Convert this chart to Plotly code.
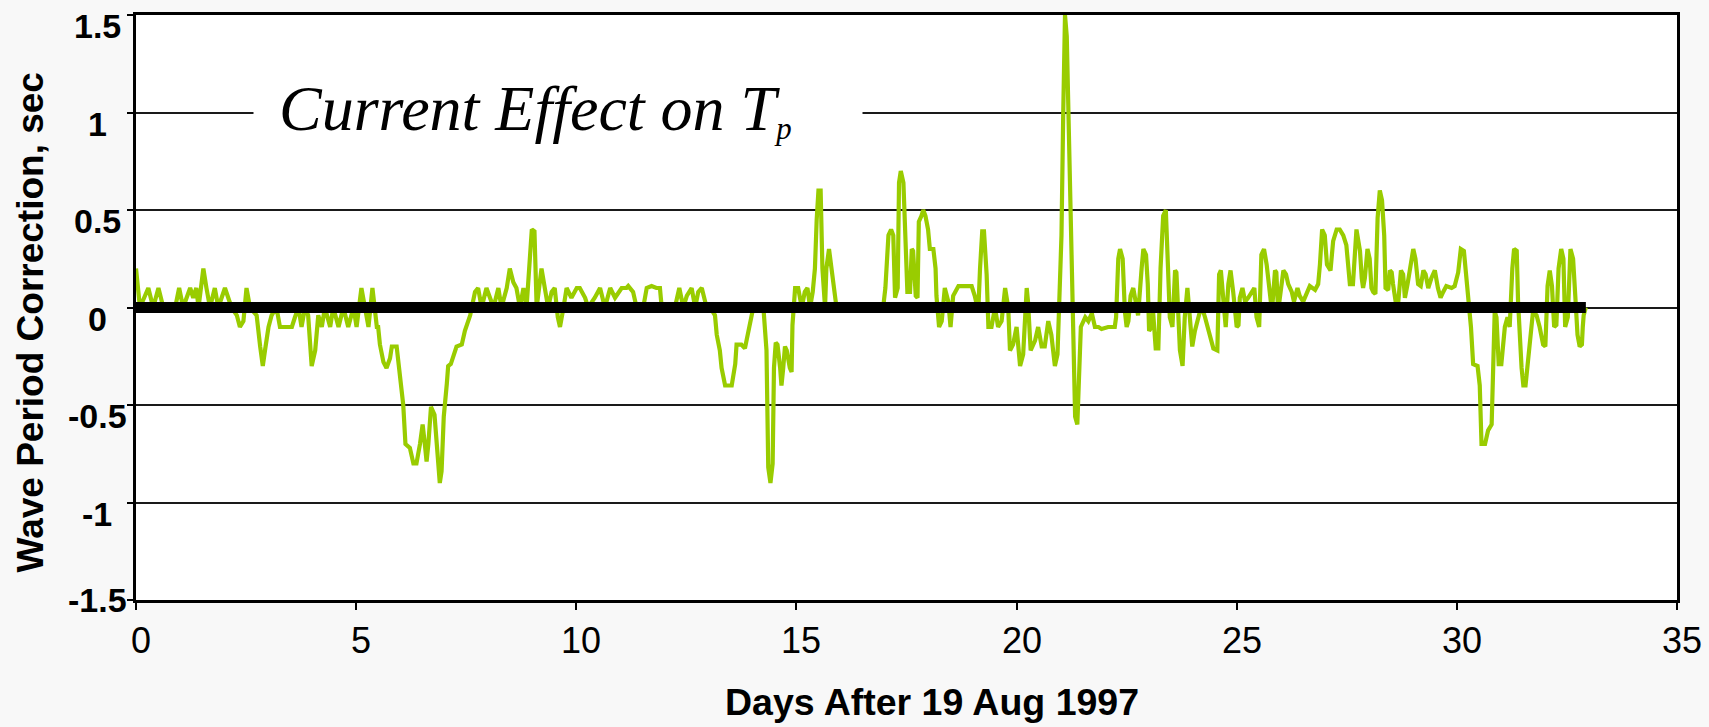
import plotly.graph_objects as go

days = [
    0.00, 0.09, 0.28, 0.39, 0.51, 0.62, 0.89, 0.98, 1.07, 1.23, 1.30, 1.37, 1.42, 1.53, 1.60, 1.68,
    1.79, 1.87, 2.02, 2.10, 2.17, 2.29, 2.36, 2.44, 2.51, 2.59, 2.74, 2.82, 2.88, 2.93, 3.01, 3.08,
    3.19, 3.27, 3.42, 3.54, 3.61, 3.69, 3.76, 3.84, 3.91, 3.99, 4.07, 4.14, 4.22, 4.29, 4.41, 4.48,
    4.60, 4.71, 4.82, 4.94, 5.01, 5.12, 5.20, 5.28, 5.37, 5.47,
    5.50, 5.54, 5.62, 5.69, 5.77, 5.81, 5.92, 6.00, 6.07, 6.12, 6.22, 6.30, 6.37, 6.45, 6.51, 6.56,
    6.60, 6.64, 6.70, 6.78, 6.83, 6.90, 6.94, 6.99, 7.06, 7.09, 7.15, 7.28, 7.40, 7.47, 7.59, 7.70,
    7.77, 7.85, 7.96, 8.04, 8.12, 8.23, 8.30, 8.42, 8.49, 8.57, 8.64, 8.72, 8.80, 8.87, 8.99, 9.05,
    9.10, 9.21, 9.29, 9.36, 9.44, 9.51, 9.58, 9.63, 9.71, 9.78, 9.89, 10.01, 10.08, 10.20, 10.27,
    10.42, 10.54, 10.65, 10.77, 10.88, 11.03,
    11.14, 11.18, 11.29, 11.37, 11.52, 11.60, 11.71, 11.82, 11.90, 11.94, 12.24, 12.34, 12.43, 12.51,
    12.62, 12.70, 12.77, 12.85, 12.96, 13.04, 13.15, 13.19, 13.26, 13.30, 13.38, 13.53, 13.61, 13.64,
    13.75, 13.83, 13.90, 13.98, 14.02, 14.25, 14.28, 14.32, 14.36, 14.41, 14.46, 14.49, 14.53, 14.57,
    14.63, 14.66, 14.70, 14.74, 14.78, 14.85, 14.89, 14.91, 14.97, 15.04, 15.12, 15.19, 15.25, 15.31,
    15.37, 15.42, 15.46, 15.50, 15.55, 15.59, 15.65, 15.68, 15.74, 15.80, 15.87, 15.91, 15.99,
    16.97, 17.02, 17.09, 17.15, 17.20, 17.24, 17.30, 17.33, 17.37, 17.43, 17.46, 17.50, 17.52, 17.58,
    17.62, 17.65, 17.71, 17.75, 17.78, 17.84, 17.88, 17.93, 17.99, 18.03, 18.11, 18.16, 18.18, 18.24,
    18.30, 18.37, 18.45, 18.50, 18.56, 18.68, 18.83, 18.98, 19.05, 19.13, 19.17, 19.22, 19.26, 19.32,
    19.36, 19.43, 19.51, 19.58, 19.66, 19.74, 19.81, 19.85, 19.92, 20.00, 20.08, 20.15, 20.23, 20.26,
    20.32, 20.42, 20.49, 20.57, 20.64, 20.72, 20.79, 20.87, 20.93, 20.98, 21.02, 21.06, 21.10, 21.14,
    21.18, 21.25, 21.29, 21.33, 21.38, 21.42, 21.46, 21.56, 21.63, 21.71, 21.78, 21.86, 21.93, 22.08,
    22.12, 22.23, 22.26, 22.31, 22.35, 22.41, 22.46, 22.50, 22.54, 22.59, 22.65, 22.71, 22.76, 22.84,
    22.88, 22.94, 22.98, 23.01, 23.07, 23.10, 23.16, 23.22, 23.27, 23.33, 23.39, 23.44, 23.48, 23.54,
    23.60, 23.63, 23.67, 23.71, 23.77, 23.82, 23.88, 23.94, 23.99, 24.05, 24.13, 24.20, 24.28, 24.35,
    24.43, 24.47, 24.56, 24.60, 24.64, 24.69, 24.75, 24.81, 24.86, 24.92, 25.00, 25.04, 25.07, 25.13,
    25.19, 25.26, 25.34, 25.40, 25.45, 25.51, 25.56, 25.62, 25.68, 25.75, 25.80, 25.87, 25.90, 25.94,
    25.99, 26.06, 26.12, 26.17, 26.25, 26.30, 26.38, 26.43, 26.51, 26.59, 26.66, 26.78, 26.85, 26.89,
    26.94, 27.00, 27.05, 27.13, 27.19, 27.27, 27.34, 27.42, 27.49, 27.57, 27.64, 27.72,
    27.80, 27.84, 27.87, 27.91, 27.97, 28.02, 28.06, 28.10, 28.15, 28.20, 28.25, 28.30, 28.35, 28.38,
    28.44, 28.48, 28.52, 28.55, 28.61, 28.67, 28.73, 28.78, 28.82, 28.88, 28.93, 29.01, 29.06, 29.12,
    29.18, 29.24, 29.29, 29.35, 29.42, 29.50, 29.57, 29.63, 29.69, 29.76, 29.88, 29.95, 30.03, 30.09,
    30.16, 30.22, 30.27, 30.32, 30.37, 30.47, 30.52, 30.56, 30.64, 30.71, 30.79, 30.82, 30.86, 30.90,
    30.95, 31.01, 31.09, 31.15, 31.20, 31.26, 31.30, 31.36, 31.39, 31.47, 31.51, 31.56, 31.61, 31.66,
    31.73, 31.81, 31.88, 31.96, 32.01, 32.06, 32.11, 32.16, 32.21, 32.26, 32.31, 32.37, 32.42, 32.46,
    32.52, 32.58, 32.64, 32.69, 32.74, 32.79, 32.84, 32.86, 32.88, 32.93,
]

correction = [
    0.20, 0.00, 0.10, 0.00, 0.10, 0.00, 0.00, 0.10, 0.00, 0.10, 0.05, 0.10, 0.00, 0.20, 0.10, 0.00,
    0.10, 0.00, 0.10, 0.05, 0.00, -0.04, -0.10, -0.07, 0.10, 0.00, -0.04, -0.20, -0.30, -0.22, -0.10, -0.04,
    0.00, -0.10, -0.10, -0.10, -0.05, 0.00, -0.10, 0.00, -0.04, -0.30, -0.22, -0.04, -0.10, 0.00, -0.10, 0.00,
    -0.10, 0.00, -0.10, 0.00, -0.10, 0.10, 0.00, -0.10, 0.10, -0.10,
    -0.10, -0.19, -0.28, -0.31, -0.26, -0.20, -0.20, -0.36, -0.50, -0.70, -0.72, -0.80, -0.80, -0.70, -0.60, -0.70,
    -0.79, -0.70, -0.51, -0.55, -0.73, -0.90, -0.84, -0.56, -0.39, -0.30, -0.29, -0.20, -0.19, -0.12, -0.04, 0.08,
    0.10, 0.00, 0.10, 0.05, 0.00, 0.10, 0.00, 0.10, 0.20, 0.13, 0.10, 0.00, 0.10, 0.00, 0.40, 0.39,
    0.00, 0.20, 0.10, 0.00, 0.08, 0.10, -0.05, -0.10, 0.00, 0.10, 0.05, 0.10, 0.10, 0.05, 0.00,
    0.05, 0.10, 0.00, 0.10, 0.05, 0.10,
    0.10, 0.11, 0.08, 0.00, 0.00, 0.10, 0.11, 0.10, 0.10, 0.00, 0.00, 0.10, 0.00, 0.06,
    0.10, 0.00, 0.08, 0.10, 0.00, 0.00, -0.04, -0.14, -0.22, -0.31, -0.40, -0.40, -0.29, -0.19,
    -0.19, -0.21, -0.14, -0.04, 0.00, 0.00, -0.09, -0.22, -0.82, -0.90, -0.80, -0.31, -0.18, -0.19,
    -0.31, -0.40, -0.31, -0.20, -0.22, -0.31, -0.33, -0.09, 0.10, 0.10, 0.00, 0.08, 0.10, 0.00,
    0.08, 0.20, 0.45, 0.60, 0.60, 0.20, 0.00, 0.20, 0.30, 0.20, 0.10, 0.00, 0.00,
    0.00, 0.10, 0.37, 0.40, 0.37, 0.05, 0.10, 0.64, 0.70, 0.64, 0.45, 0.20, 0.08, 0.08,
    0.30, 0.29, 0.06, 0.05, 0.44, 0.47, 0.50, 0.47, 0.40, 0.30, 0.30, 0.20, 0.06, -0.10,
    -0.07, 0.10, 0.03, -0.10, 0.06, 0.11, 0.11, 0.11, 0.06, -0.02, 0.20, 0.39, 0.39, 0.17,
    -0.10, -0.10, 0.00, -0.10, -0.07, 0.10, 0.00, -0.22, -0.19, -0.10, -0.30, -0.24, 0.10, 0.03,
    -0.22, -0.17, -0.10, -0.20, -0.20, -0.07, -0.14, -0.30, -0.24, 0.10, 0.37, 1.00, 1.50, 1.39,
    1.00, 0.25, -0.14, -0.56, -0.60, -0.31, -0.10, -0.05, -0.07, -0.03, -0.10, -0.10, -0.11, -0.10,
    -0.10, -0.10, -0.05, 0.25, 0.30, 0.25, -0.02, -0.10, -0.07, 0.06, 0.10, 0.03, -0.04, 0.20,
    0.30, 0.27, 0.12, -0.12, -0.10, -0.02, -0.21, -0.21, 0.20, 0.47, 0.50, 0.20, -0.05, -0.10,
    0.19, 0.18, -0.02, -0.22, -0.30, -0.05, 0.10, -0.05, -0.20, -0.12, -0.04, 0.01, -0.05, -0.11,
    -0.16, -0.21, -0.22, 0.17, 0.19, 0.08, -0.10, 0.12, 0.19, 0.08, -0.10, -0.09, 0.05, 0.10,
    0.03, 0.05, 0.08, 0.10, -0.05, -0.10, 0.27, 0.30, 0.22, 0.05, -0.02, 0.19, 0.18, -0.02,
    0.06, 0.19, 0.17, 0.12, 0.08, 0.03, 0.10, 0.06, 0.03, 0.08, 0.11, 0.09, 0.12, 0.22,
    0.40, 0.37, 0.22, 0.19, 0.34, 0.40, 0.40, 0.37, 0.32, 0.12, 0.12, 0.40,
    0.29, 0.15, 0.10, 0.15, 0.30, 0.25, 0.10, 0.08, 0.07, 0.46, 0.60, 0.55, 0.37, 0.10,
    0.09, 0.19, 0.18, 0.12, 0.03, 0.03, 0.19, 0.17, 0.05, 0.12, 0.20, 0.30, 0.25, 0.12,
    0.11, 0.19, 0.17, 0.10, 0.15, 0.19, 0.10, 0.05, 0.08, 0.11, 0.10, 0.11, 0.18, 0.30,
    0.29, 0.15, 0.01, -0.10, -0.29, -0.30, -0.40, -0.70, -0.70, -0.63, -0.60, -0.40, -0.02, -0.05,
    -0.29, -0.29, -0.10, -0.05, -0.10, 0.20, 0.30, 0.29, 0.03, -0.31, -0.40, -0.40, -0.29, -0.14,
    -0.02, -0.04, -0.10, -0.19, -0.20, 0.11, 0.19, 0.11, -0.10, -0.09, 0.20, 0.30, 0.25, -0.10,
    -0.05, 0.30, 0.25, 0.06, -0.14, -0.20, -0.19, -0.10, -0.04, 0.00,
]

x_ticks = [0, 5, 10, 15, 20, 25, 30, 35]
x_tick_labels = ["0", "5", "10", "15", "20", "25", "30", "35"]
y_ticks = [-1.5, -1, -0.5, 0, 0.5, 1, 1.5]
y_tick_labels = ["-1.5", "-1", "-0.5", "0", "0.5", "1", "1.5"]

title_main = "Current Effect on T"
title_sub = "p"
x_title = "Days After 19 Aug 1997"
y_title = "Wave Period Correction, sec"

# plot geometry (pixels)
W, H = 1709, 727
ML, MR, MT, MB = 136, 32, 12, 127
PW = W - ML - MR
PH = H - MT - MB

def px_to_paper_x(px):
    return (px - ML) / PW

def px_to_paper_y(py):
    return (H - MB - py) / PH

fig = go.Figure()
fig.add_trace(go.Scatter(
    x=days, y=correction, mode="lines",
    line=dict(color="#99CC00", width=4.2),
    showlegend=False, hoverinfo="skip",
))
fig.add_trace(go.Scatter(
    x=[days[0], days[-1]], y=[0, 0], mode="lines",
    line=dict(color="#000000", width=11),
    showlegend=False, hoverinfo="skip",
))

annotations = []
for v, lab in zip(x_ticks, x_tick_labels):
    annotations.append(dict(
        x=v, xref="x", y=px_to_paper_y(641), yref="paper",
        text=lab, showarrow=False, xanchor="center", yanchor="middle",
        xshift=5,
        font=dict(family="Liberation Sans, Arial", size=36, color="#000000"),
    ))
for v, lab in zip(y_ticks, y_tick_labels):
    annotations.append(dict(
        x=px_to_paper_x(97), xref="paper", y=v, yref="y",
        text="<b>" + lab + "</b>", showarrow=False, xanchor="center", yanchor="middle",
        yshift=(-11 if v > -1.5 else 0),
        font=dict(family="Liberation Sans, Arial", size=34, color="#000000"),
    ))
annotations.append(dict(
    x=px_to_paper_x(932), xref="paper", y=px_to_paper_y(703), yref="paper",
    text="<b>" + x_title + "</b>", showarrow=False, xanchor="center", yanchor="middle",
    font=dict(family="Liberation Sans, Arial", size=37.5, color="#000000"),
))
annotations.append(dict(
    x=px_to_paper_x(30), xref="paper", y=px_to_paper_y(321), yref="paper",
    text="<b>" + y_title + "</b>", showarrow=False, textangle=-90,
    xanchor="center", yanchor="middle",
    font=dict(family="Liberation Sans, Arial", size=37, color="#000000"),
))
annotations.append(dict(
    x=px_to_paper_x(253), xref="paper", y=px_to_paper_y(107), yref="paper",
    text="<i>" + title_main + "<span style='font-size:44px'><sub>" + title_sub + "</sub></span></i>",
    showarrow=False, xanchor="left", yanchor="middle",
    align="left", width=558, borderpad=25, bgcolor="#FFFFFF",
    font=dict(family="Liberation Serif, Times New Roman", size=64, color="#000000"),
))

fig.update_layout(
    width=W, height=H,
    margin=dict(l=ML, r=MR, t=MT, b=MB, pad=0),
    paper_bgcolor="#F8F8F8",
    plot_bgcolor="#FFFFFF",
    annotations=annotations,
    xaxis=dict(
        range=[0, 35], tickvals=x_ticks, showticklabels=False,
        ticks="outside", ticklen=7, tickwidth=2, tickcolor="#000000",
        showgrid=False, zeroline=False,
        showline=True, linecolor="#000000", linewidth=3, mirror=True,
        fixedrange=True,
    ),
    yaxis=dict(
        range=[-1.5, 1.5], tickvals=y_ticks, showticklabels=False,
        ticks="outside", ticklen=6, tickwidth=2, tickcolor="#000000",
        showgrid=True, gridcolor="#1A1A1A", gridwidth=1.5, zeroline=False,
        showline=True, linecolor="#000000", linewidth=3, mirror=True,
        fixedrange=True,
    ),
)

fig.write_html("out.html", config={"displayModeBar": False})
